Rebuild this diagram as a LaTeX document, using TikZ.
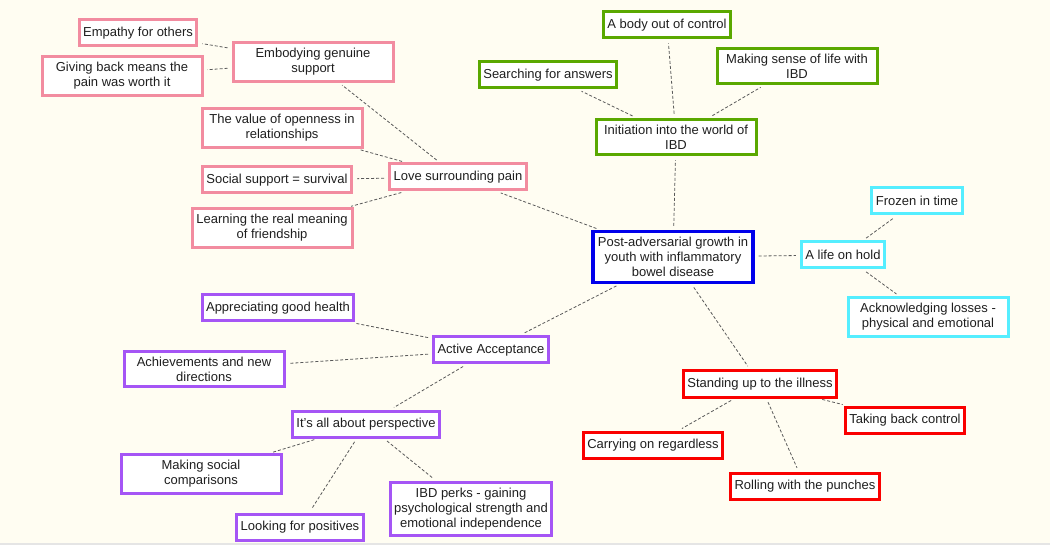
\documentclass[tikz,border=0pt]{standalone}
\usepackage{fontspec}
\setmainfont{Liberation Sans}
\definecolor{bgcream}{RGB}{255,253,242}
\definecolor{mmpink}{RGB}{242,140,160}
\definecolor{mmgreen}{RGB}{90,168,0}
\definecolor{mmblue}{RGB}{0,0,235}
\definecolor{mmcyan}{RGB}{85,238,255}
\definecolor{mmpurple}{RGB}{165,85,245}
\definecolor{mmred}{RGB}{250,0,0}
\tikzset{
  topic/.style={draw, fill=white, line width=2.25pt, inner xsep=3pt, inner ysep=4.2pt,
    minimum height=19.5pt, font=\fontsize{9.75}{11.25}\selectfont, text=black!88},
  wrapped/.style={minimum width=120pt, align=center},
  pinkbox/.style={topic, draw=mmpink},
  greenbox/.style={topic, draw=mmgreen},
  cyanbox/.style={topic, draw=mmcyan},
  purplebox/.style={topic, draw=mmpurple},
  redbox/.style={topic, draw=mmred},
  link/.style={draw=black!65, line width=0.6pt, dash pattern=on 2.25pt off 1.5pt,
    shorten <=3pt, shorten >=3pt},
}
\begin{document}
\begin{tikzpicture}[x=0.75pt,y=-0.75pt]
  \useasboundingbox[fill=bgcream] (0,0) rectangle (1050,545);
  \fill[black!10] (0,543) rectangle (1050,545);
  % 中心主题
  \node[topic, wrapped, draw=mmblue, line width=2.6pt] (hub) at (673,257) {Post-adversarial growth in\\youth with inflammatory\\bowel disease};
  % 绿色分支
  \node[greenbox, wrapped] (init) at (676,137) {Initiation into the world of\\IBD};
  \node[greenbox] (body) at (667,25) {A body out of control};
  \node[greenbox] (search) at (548,75) {Searching for answers};
  \node[greenbox, wrapped] (sense) at (797,66) {Making sense of life with\\IBD};
  % 粉色分支
  \node[pinkbox] (love) at (458,177) {Love surrounding pain};
  \node[pinkbox, wrapped] (embody) at (313,62) {Embodying genuine\\support};
  \node[pinkbox] (empathy) at (138,33) {Empathy for others};
  \node[pinkbox, wrapped] (giveback) at (122,76) {Giving back means the\\pain was worth it};
  \node[pinkbox, wrapped] (openness) at (282,128) {The value of openness in\\relationships};
  \node[pinkbox] (social) at (277,180) {Social support = survival};
  \node[pinkbox, wrapped] (friendship) at (272,228) {Learning the real meaning\\of friendship};
  % 青色分支
  \node[cyanbox] (hold) at (843,255) {A life on hold};
  \node[cyanbox] (frozen) at (917,201) {Frozen in time};
  \node[cyanbox, wrapped] (losses) at (928,317) {Acknowledging losses -\\physical and emotional};
  % 紫色分支
  \node[purplebox] (accept) at (491,350) {Active Acceptance};
  \node[purplebox] (health) at (278,308) {Appreciating good health};
  \node[purplebox, wrapped] (achieve) at (204,369) {Achievements and new\\directions};
  \node[purplebox] (persp) at (366,424) {It’s all about perspective};
  \node[purplebox, wrapped] (compare) at (201,474) {Making social\\comparisons};
  \node[purplebox] (positives) at (300,527) {Looking for positives};
  \node[purplebox, wrapped] (perks) at (471,509) {IBD perks - gaining\\psychological strength and\\emotional independence};
  % 红色分支
  \node[redbox] (stand) at (760,384) {Standing up to the illness};
  \node[redbox] (control) at (905,420) {Taking back control};
  \node[redbox] (carry) at (653,445) {Carrying on regardless};
  \node[redbox] (rolling) at (805,486) {Rolling with the punches};
  % 虚线连接
  \foreach \a/\b in {hub/init, init/body, init/search, init/sense,
      hub/love, love/embody, embody/empathy, embody/giveback, love/openness, love/social, love/friendship,
      hub/hold, hold/frozen, hold/losses,
      hub/accept, accept/health, accept/achieve, accept/persp, persp/compare, persp/positives, persp/perks,
      hub/stand, stand/control, stand/carry, stand/rolling}
    \draw[link] (\a) -- (\b);
\end{tikzpicture}
\end{document}
